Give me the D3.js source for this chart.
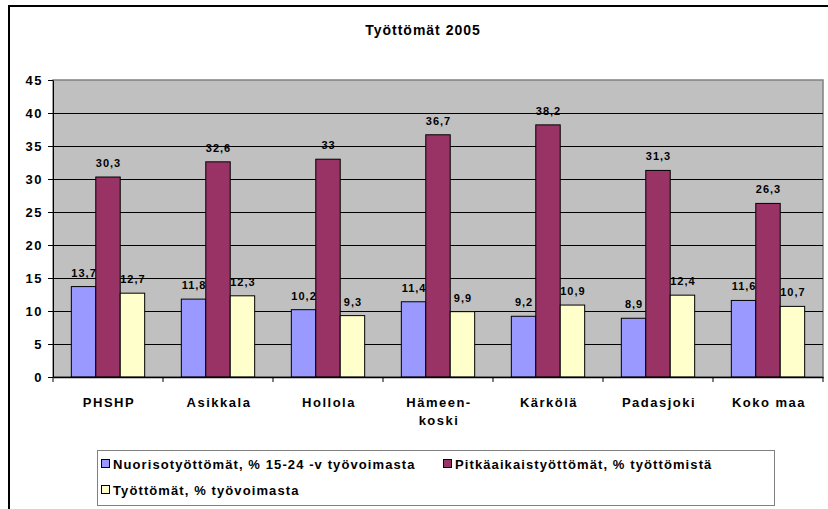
<!DOCTYPE html>
<html lang="fi">
<head>
<meta charset="utf-8">
<title>Työttömät 2005</title>
<style>
  body { margin: 0; background: #fff; }
  svg text { font-family: "Liberation Sans", Arial, sans-serif; font-weight: bold; fill: #000; }
  .bar { stroke: #000; stroke-width: 1; }
  .grid line { stroke: #000; stroke-width: 1; }
</style>
</head>
<body>
<svg width="828" height="509"></svg>
<script src="https://d3js.org/d3.v7.min.js"></script>
<script>

var categories = ["PHSHP", "Asikkala", "Hollola", "Hämeen-|koski", "Kärkölä", "Padasjoki", "Koko maa"];
var seriesNames = ["Nuorisotyöttömät, % 15-24 -v työvoimasta", "Pitkäaikaistyöttömät, % työttömistä", "Työttömät, % työvoimasta"];
var nuoriso = [13.7, 11.8, 10.2, 11.4, 9.2, 8.9, 11.6];
var pitkaaikais = [30.3, 32.6, 33, 36.7, 38.2, 31.3, 26.3];
var tyottomat = [12.7, 12.3, 9.3, 9.9, 10.9, 12.4, 10.7];
var yTicks = [0, 5, 10, 15, 20, 25, 30, 35, 40, 45];
var colors = ["#9999FF", "#993366", "#FFFFCC"];

var series = [nuoriso, pitkaaikais, tyottomat];

var svg = d3.select("svg");

// outer chart frame (only left and top edges visible)
svg.append("rect")
    .attr("x", 9).attr("y", 6)
    .attr("width", 840).attr("height", 520)
    .attr("fill", "#fff").attr("stroke", "#000").attr("stroke-width", 2);

var plot = {left: 53, top: 80, right: 823, bottom: 377};

var x = d3.scaleBand()
    .domain(categories)
    .range([plot.left, plot.right]);

var inner = d3.scaleBand()
    .domain([0, 1, 2])
    .range([0, x.bandwidth()])
    .paddingOuter(0.75);

var y = d3.scaleLinear()
    .domain([0, 45])
    .range([plot.bottom, plot.top]);

// plot area
svg.append("rect")
    .attr("x", plot.left).attr("y", plot.top)
    .attr("width", plot.right - plot.left).attr("height", plot.bottom - plot.top)
    .attr("fill", "#C0C0C0").attr("stroke", "#808080").attr("stroke-width", 1.5);

svg.append("g")
    .attr("class", "grid")
    .selectAll("line")
    .data(yTicks.slice(1, -1))
    .enter().append("line")
      .attr("x1", plot.left).attr("x2", plot.right)
      .attr("y1", function(d) { return Math.round(y(d)) + 0.5; })
      .attr("y2", function(d) { return Math.round(y(d)) + 0.5; });

svg.append("text")
    .attr("x", 423).attr("y", 35)
    .attr("text-anchor", "middle")
    .style("font-size", "14px")
    .style("letter-spacing", "1px")
    .text("Työttömät 2005");

// bars
var groups = svg.append("g").selectAll("g")
    .data(categories)
    .enter().append("g")
      .attr("transform", function(d) { return "translate(" + x(d) + ",0)"; });

groups.selectAll("rect")
    .data(function(d, i) { return series.map(function(s, j) { return {k: j, v: s[i]}; }); })
    .enter().append("rect")
      .attr("class", "bar")
      .attr("x", function(d) { return inner(d.k); })
      .attr("width", inner.bandwidth())
      .attr("y", function(d) { return y(d.v); })
      .attr("height", function(d) { return y(0) - y(d.v); })
      .attr("fill", function(d) { return colors[d.k]; });

groups.selectAll("text.val")
    .data(function(d, i) { return series.map(function(s, j) { return {k: j, v: s[i]}; }); })
    .enter().append("text")
      .attr("class", "val")
      .attr("x", function(d) { return inner(d.k) + inner.bandwidth() / 2 + 0.5; })
      .attr("y", function(d) { return y(d.v) - 10; })
      .attr("text-anchor", "middle")
      .style("font-size", "11px")
      .style("letter-spacing", "1px")
      .text(function(d) { return String(d.v).replace(".", ","); });

// y axis
var yAxis = svg.append("g")
    .attr("transform", "translate(" + plot.left + ",0)")
    .call(d3.axisLeft(y).tickValues(yTicks).tickSize(5).tickSizeOuter(0));
yAxis.select(".domain").attr("stroke", "#000");
yAxis.selectAll("text")
    .style("font-size", "13px")
    .style("letter-spacing", "1.5px")
    .attr("font-family", null)
    .attr("dx", "-2");

// x axis
var xAxis = svg.append("g")
    .attr("transform", "translate(0," + plot.bottom + ")")
    .call(d3.axisBottom(x).tickSize(0).tickSizeOuter(0));
xAxis.select(".domain").attr("stroke", "#000").attr("stroke-width", 1.5);
xAxis.selectAll(".tick text").remove();
xAxis.selectAll(".sep")
    .data(categories.concat(["end"]))
    .enter().append("line")
      .attr("x1", function(d, i) { return plot.left + i * x.bandwidth(); })
      .attr("x2", function(d, i) { return plot.left + i * x.bandwidth(); })
      .attr("y1", 0).attr("y2", 5)
      .attr("stroke", "#000");

var catLabels = svg.append("g").selectAll("text")
    .data(categories)
    .enter().append("text")
      .attr("x", function(d) { return x(d) + x.bandwidth() / 2 + 1; })
      .attr("y", 407)
      .attr("text-anchor", "middle")
      .style("font-size", "13px")
      .style("letter-spacing", "1.5px");
catLabels.selectAll("tspan")
    .data(function(d) { return d.split("|"); })
    .enter().append("tspan")
      .attr("x", function() { return d3.select(this.parentNode).attr("x"); })
      .attr("dy", function(d, i) { return i ? 18 : 0; })
      .text(function(d) { return d; });

// legend
var legend = svg.append("g");
legend.append("rect")
    .attr("x", 97.5).attr("y", 450.5)
    .attr("width", 677).attr("height", 55)
    .attr("fill", "#fff").attr("stroke", "#808080");

var legendPos = [[101, 464], [443, 464], [101, 490]];
var items = legend.selectAll("g")
    .data(seriesNames)
    .enter().append("g")
      .attr("transform", function(d, i) { return "translate(" + legendPos[i][0] + "," + legendPos[i][1] + ")"; });
items.append("rect")
    .attr("x", 0.5).attr("y", -4.5)
    .attr("width", 8).attr("height", 8)
    .attr("fill", function(d, i) { return colors[i]; })
    .attr("stroke", "#000");
items.append("text")
    .attr("x", 12).attr("y", 4.5)
    .style("font-size", "13px")
    .style("letter-spacing", "1.1px")
    .text(function(d) { return d; });

</script>
</body>
</html>
